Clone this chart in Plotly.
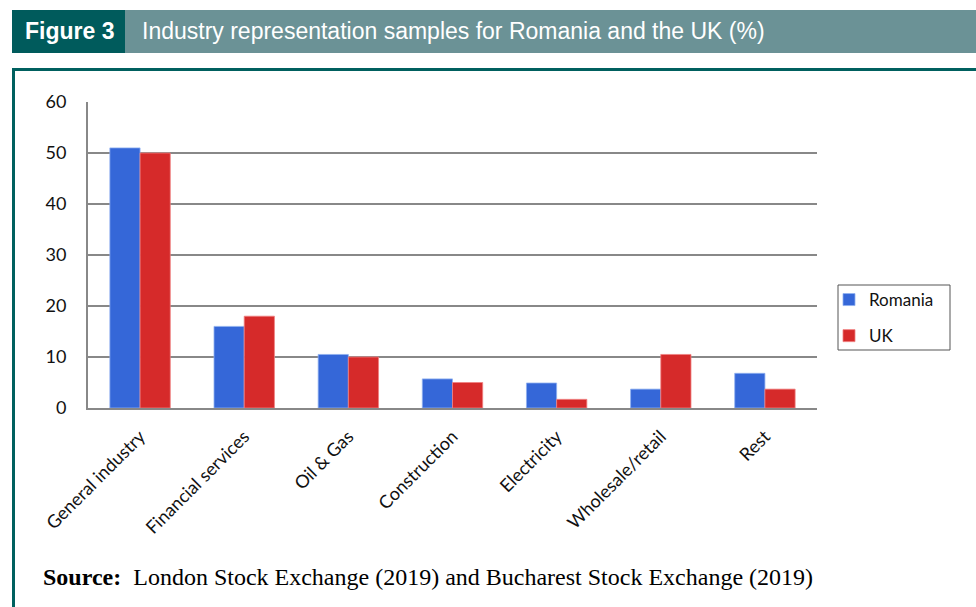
import plotly.graph_objects as go

categories = ["General industry", "Financial services", "Oil & Gas", "Construction",
              "Electricity", "Wholesale/retail", "Rest"]
romania = [51, 16, 10.5, 5.7, 4.9, 3.7, 6.8]
uk = [50, 18, 10, 5, 1.7, 10.5, 3.7]
y_ticks = [0, 10, 20, 30, 40, 50, 60]

W, H = 976, 607
L, R, T, B = 88, 817, 102, 408

def px(x):
    return (x - L) / (R - L)

def py(y):
    return (B - y) / (B - T)

fig = go.Figure()
fig.add_trace(go.Bar(name="Romania", x=categories, y=romania, legendgroup="ro",
                     marker=dict(color="#3567d8", line=dict(color="#8fb0f0", width=0.8))))
fig.add_trace(go.Bar(name="UK", x=categories, y=uk, legendgroup="uk",
                     marker=dict(color="#d62a2a", line=dict(color="#f08080", width=0.8))))

shapes = [
    dict(type="rect", xref="paper", yref="paper", x0=px(12), x1=px(125), y0=py(53), y1=py(10),
         fillcolor="#005b5c", line=dict(width=0), layer="above"),
    dict(type="rect", xref="paper", yref="paper", x0=px(125), x1=px(976), y0=py(53), y1=py(10),
         fillcolor="#6b9296", line=dict(width=0), layer="above"),
    dict(type="line", xref="paper", yref="paper", x0=px(12), x1=px(976), y0=py(69.5), y1=py(69.5),
         line=dict(color="#00605f", width=3), layer="above"),
    dict(type="line", xref="paper", yref="paper", x0=px(13.5), x1=px(13.5), y0=py(69), y1=py(607),
         line=dict(color="#00605f", width=3), layer="above"),
    dict(type="rect", xref="paper", yref="paper", x0=px(838), x1=px(950), y0=py(350), y1=py(285),
         fillcolor="rgba(0,0,0,0)", line=dict(color="#555555", width=1), layer="above"),
]

annotations = [
    dict(text="<b>Figure 3</b>", xref="paper", yref="paper", x=px(69), y=py(31.5),
         xanchor="center", yanchor="middle", showarrow=False,
         font=dict(family="Liberation Sans, Arial", size=23, color="white")),
    dict(text="Industry representation samples for Romania and the UK (%)", xref="paper", yref="paper",
         x=px(140), y=py(31.5), xanchor="left", yanchor="middle", showarrow=False,
         font=dict(family="Liberation Sans, Arial", size=23, color="white")),
    dict(text="<b>Source:</b>  London Stock Exchange (2019) and Bucharest Stock Exchange (2019)",
         xref="paper", yref="paper", x=px(41), y=py(577), xanchor="left", yanchor="middle",
         showarrow=False, font=dict(family="Liberation Serif, Times New Roman", size=24, color="black")),
]

fig.update_layout(
    width=W, height=H,
    margin=dict(l=L, r=W - R, t=T, b=H - B, pad=0),
    paper_bgcolor="white", plot_bgcolor="white",
    barmode="group", bargap=0.42, bargroupgap=0,
    font=dict(family="Lato, Open Sans, sans-serif", size=18, color="#111111"),
    shapes=shapes, annotations=annotations,
    legend=dict(x=px(829), y=py(282), xanchor="left", yanchor="top",
                bgcolor="rgba(0,0,0,0)", borderwidth=0,
                font=dict(family="Lato, Open Sans, sans-serif", size=17, color="#111111"),
                tracegroupgap=11, itemwidth=30),
    showlegend=True,
)
fig.update_xaxes(tickangle=-45, showline=True, linecolor="#888888", linewidth=2,
                 ticks="", ticklabelstandoff=9, tickfont=dict(size=18, color="#111111"), showgrid=False)
fig.update_yaxes(range=[0, 60], tickvals=y_ticks, showgrid=True, gridcolor="#888888", gridwidth=1.8,
                 showline=True, linecolor="#888888", linewidth=2, ticks="outside", ticklen=0,
                 ticklabelstandoff=16, tickfont=dict(size=18, color="#111111"), zeroline=False)

fig.write_html("out.html")
